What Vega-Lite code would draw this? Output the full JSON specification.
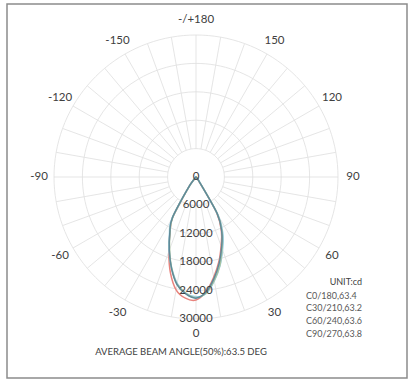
{
  "$schema": "https://vega.github.io/schema/vega-lite/v6.json",
  "width": 400,
  "height": 374,
  "autosize": "none",
  "padding": {"left": 7, "top": 4, "right": 7, "bottom": 7},
  "background": "white",
  "config": {"view": {"stroke": "#8c8c8c", "strokeWidth": 1.5}, "font": "Lato"},
  "title": {"text": "AVERAGE BEAM ANGLE(50%):63.5 DEG", "orient": "bottom", "offset": -31, "fontSize": 9.5, "fontWeight": "normal", "color": "#404040", "anchor": "middle", "dx": -26},
  "datasets": {
    "rings": [
      {"ring": 6000, "a": [0,10,20,30,40,50,60,70,80,90,100,110,120,130,140,150,160,170,180,190,200,210,220,230,240,250,260,270,280,290,300,310,320,330,340,350]},
      {"ring": 12000, "a": [0,10,20,30,40,50,60,70,80,90,100,110,120,130,140,150,160,170,180,190,200,210,220,230,240,250,260,270,280,290,300,310,320,330,340,350]},
      {"ring": 18000, "a": [0,10,20,30,40,50,60,70,80,90,100,110,120,130,140,150,160,170,180,190,200,210,220,230,240,250,260,270,280,290,300,310,320,330,340,350]},
      {"ring": 24000, "a": [0,10,20,30,40,50,60,70,80,90,100,110,120,130,140,150,160,170,180,190,200,210,220,230,240,250,260,270,280,290,300,310,320,330,340,350]},
      {"ring": 30000, "a": [0,10,20,30,40,50,60,70,80,90,100,110,120,130,140,150,160,170,180,190,200,210,220,230,240,250,260,270,280,290,300,310,320,330,340,350]}
    ],
    "spokes": [
      {"a": 0},{"a": 10},{"a": 20},{"a": 30},{"a": 40},{"a": 50},{"a": 60},{"a": 70},{"a": 80},
      {"a": 90},{"a": 100},{"a": 110},{"a": 120},{"a": 130},{"a": 140},{"a": 150},{"a": 160},{"a": 170},
      {"a": 180},{"a": 190},{"a": 200},{"a": 210},{"a": 220},{"a": 230},{"a": 240},{"a": 250},{"a": 260},
      {"a": 270},{"a": 280},{"a": 290},{"a": 300},{"a": 310},{"a": 320},{"a": 330},{"a": 340},{"a": 350}
    ],
    "curves": [
      {"a": -60, "c0": 0, "c30": 0, "c60": 0, "c90": 0},
      {"a": -55, "c0": 0, "c30": 0, "c60": 0, "c90": 0},
      {"a": -50, "c0": 50, "c30": 60, "c60": 40, "c90": 50},
      {"a": -45, "c0": 160, "c30": 200, "c60": 120, "c90": 150},
      {"a": -40, "c0": 500, "c30": 700, "c60": 450, "c90": 500},
      {"a": -35, "c0": 3000, "c30": 3300, "c60": 2800, "c90": 3000},
      {"a": -30, "c0": 9900, "c30": 10300, "c60": 9800, "c90": 10000},
      {"a": -25, "c0": 13000, "c30": 13300, "c60": 13000, "c90": 13100},
      {"a": -20, "c0": 16800, "c30": 16700, "c60": 16300, "c90": 16500},
      {"a": -15, "c0": 20900, "c30": 19900, "c60": 19900, "c90": 20000},
      {"a": -10, "c0": 24200, "c30": 22800, "c60": 23000, "c90": 23100},
      {"a": -5, "c0": 25700, "c30": 24600, "c60": 24700, "c90": 24800},
      {"a": 0, "c0": 26000, "c30": 25300, "c60": 25500, "c90": 25600},
      {"a": 5, "c0": 24300, "c30": 24700, "c60": 24600, "c90": 24400},
      {"a": 10, "c0": 21500, "c30": 22300, "c60": 22200, "c90": 21800},
      {"a": 15, "c0": 18600, "c30": 19500, "c60": 19400, "c90": 18900},
      {"a": 20, "c0": 15500, "c30": 16400, "c60": 16100, "c90": 15800},
      {"a": 25, "c0": 12700, "c30": 13500, "c60": 13100, "c90": 12900},
      {"a": 30, "c0": 8800, "c30": 9500, "c60": 9200, "c90": 9000},
      {"a": 35, "c0": 1100, "c30": 1500, "c60": 1300, "c90": 1200},
      {"a": 40, "c0": 350, "c30": 450, "c60": 380, "c90": 400},
      {"a": 45, "c0": 120, "c30": 160, "c60": 140, "c90": 150},
      {"a": 50, "c0": 40, "c30": 50, "c60": 40, "c90": 50},
      {"a": 55, "c0": 0, "c30": 0, "c60": 0, "c90": 0},
      {"a": 60, "c0": 0, "c30": 0, "c60": 0, "c90": 0}
    ],
    "anglabels": [
      {"a": 0, "t": "0"},{"a": 30, "t": "30"},{"a": 60, "t": "60"},{"a": 90, "t": "90"},
      {"a": 120, "t": "120"},{"a": 150, "t": "150"},{"a": 180, "t": "-/+180"},
      {"a": -150, "t": "-150"},{"a": -120, "t": "-120"},{"a": -90, "t": "-90"},
      {"a": -60, "t": "-60"},{"a": -30, "t": "-30"}
    ],
    "radlabels": [
      {"v": 0},{"v": 6000},{"v": 12000},{"v": 18000},{"v": 24000},{"v": 30000}
    ]
  },
  "encoding": {
    "x": {"field": "x", "type": "quantitative", "scale": {"domain": [-39930, 44578], "nice": false, "zero": false}, "axis": null},
    "y": {"field": "y", "type": "quantitative", "scale": {"domain": [-42465, 36550], "nice": false, "zero": false}, "axis": null}
  },
  "layer": [
    {
      "data": {"name": "rings"},
      "transform": [
        {"flatten": ["a"]},
        {"calculate": "datum.ring * sin(datum.a * PI / 180)", "as": "x"},
        {"calculate": "-datum.ring * cos(datum.a * PI / 180)", "as": "y"}
      ],
      "mark": {"type": "line", "interpolate": "cardinal-closed", "stroke": "#dedede", "strokeWidth": 0.8},
      "encoding": {
        "detail": {"field": "ring", "type": "nominal"},
        "order": {"field": "a", "type": "quantitative"}
      }
    },
    {
      "data": {"name": "spokes"},
      "transform": [
        {"calculate": "6000 * sin(datum.a * PI / 180)", "as": "x"},
        {"calculate": "-6000 * cos(datum.a * PI / 180)", "as": "y"},
        {"calculate": "30000 * sin(datum.a * PI / 180)", "as": "x2"},
        {"calculate": "-30000 * cos(datum.a * PI / 180)", "as": "y2"}
      ],
      "mark": {"type": "rule", "stroke": "#dedede", "strokeWidth": 0.8},
      "encoding": {
        "x2": {"field": "x2"},
        "y2": {"field": "y2"}
      }
    },
    {
      "data": {"name": "curves"},
      "transform": [
        {"fold": ["c0", "c30", "c60", "c90"], "as": ["key", "cd"]},
        {"calculate": "datum.cd * sin(datum.a * PI / 180)", "as": "x"},
        {"calculate": "-datum.cd * cos(datum.a * PI / 180)", "as": "y"}
      ],
      "mark": {"type": "line", "strokeWidth": 1.5, "interpolate": "cardinal"},
      "encoding": {
        "color": {
          "field": "key", "type": "nominal",
          "scale": {"domain": ["c0", "c30", "c60", "c90"], "range": ["#e8837d", "#9dd3ea", "#a9c4a0", "#5f8a99"]},
          "legend": {
            "orient": "none", "legendX": 290, "legendY": 274,
            "title": "UNIT:cd", "titleFontSize": 9, "titleFontWeight": "normal", "titleColor": "#404040",
            "titleAlign": "right", "titleAnchor": "end", "titlePadding": 4,
            "labelFontSize": 9, "labelColor": "#595959", "labelOffset": 0,
            "symbolSize": 0, "symbolStrokeWidth": 0, "symbolOpacity": 0, "rowPadding": 2.7,
            "labelExpr": "datum.label == 'c0' ? 'C0/180,63.4' : datum.label == 'c30' ? 'C30/210,63.2' : datum.label == 'c60' ? 'C60/240,63.6' : 'C90/270,63.8'"
          }
        },
        "order": {"field": "a", "type": "quantitative"}
      }
    },
    {
      "data": {"name": "anglabels"},
      "transform": [
        {"calculate": "33170 * sin(datum.a * PI / 180)", "as": "x"},
        {"calculate": "-33170 * cos(datum.a * PI / 180)", "as": "y"}
      ],
      "mark": {"type": "text", "fontSize": 11.5, "color": "#404040", "align": "center", "baseline": "middle"},
      "encoding": {"text": {"field": "t", "type": "nominal"}}
    },
    {
      "data": {"name": "radlabels"},
      "transform": [
        {"calculate": "0", "as": "x"},
        {"calculate": "-datum.v", "as": "y"}
      ],
      "mark": {"type": "text", "fontSize": 11.5, "color": "#404040", "align": "center", "baseline": "middle"},
      "encoding": {"text": {"field": "v", "type": "quantitative", "format": "d"}}
    }
  ]
}
